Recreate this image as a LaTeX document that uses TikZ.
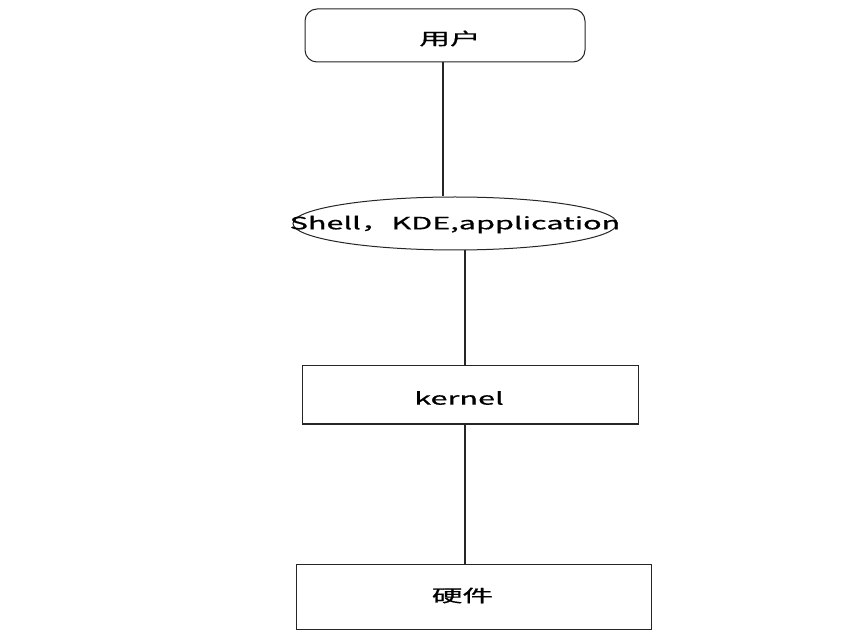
\documentclass[tikz,border=0pt]{standalone}
\usepackage{fontspec}
\setmainfont{Noto Sans CJK SC}[FakeBold=0.6]
\usetikzlibrary{shapes.geometric}
\tikzset{
  box/.style={draw=black!85, line width=1pt, inner sep=0pt, fill=white},
  rbox/.style={box, rounded corners=12pt},
  oval/.style={box, ellipse},
  link/.style={draw=black!85, line width=1.1pt},
  txt/.style={inner sep=0pt, font=\fontsize{17}{20}\selectfont}
}
\newcommand{\wide}[1]{\scalebox{1.8}[1]{#1}}
\begin{document}
\begin{tikzpicture}[x=1pt,y=-1pt]
\useasboundingbox (0,0) rectangle (860,636);
\node[rbox, minimum width=280pt, minimum height=53pt] (user) at (445,35.5) {};
\node[oval, minimum width=324pt, minimum height=53pt] (shell) at (455,223.5) {};
\node[box, minimum width=336pt, minimum height=58pt] (kernel) at (470,395) {};
\node[box, minimum width=355pt, minimum height=65pt] (hw) at (473.5,596.5) {};

\node[txt] (usert) at ([xshift=5pt,yshift=-3pt]user.center) {\wide{用户}};
\node[txt] (shellt) at ([yshift=-1pt]shell.center) {\wide{Shell，KDE,application}};
\node[txt] (kernelt) at ([xshift=-11pt,yshift=-3pt]kernel.center) {\wide{kernel}};
\node[txt] (hwt) at ([xshift=-11pt,yshift=1pt]hw.center) {\wide{硬件}};

\draw[link] (user.south -| 443,0) -- (shell.north -| 443,0);
\draw[link] ([xshift=-5pt]kernel.north) -- ([xshift=-5pt]kernel.north |- shell.south);
\draw[link] ([xshift=-8.5pt]hw.north) -- ([xshift=-8.5pt]hw.north |- kernel.south);
\end{tikzpicture}
\end{document}
